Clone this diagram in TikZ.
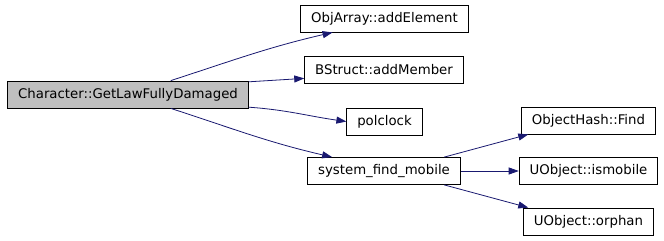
\documentclass[tikz,border=0pt]{standalone}
\usepackage{fontspec}
\setmainfont{DejaVu Sans}
\usepackage{tikz}
\usetikzlibrary{positioning,arrows.meta,calc}
\definecolor{edgeblue}{HTML}{191970}
\tikzset{
  fnbox/.style={draw=black,line width=0.8bp,minimum height=27bp,
    inner xsep=10.5bp,inner ysep=2bp,font=\fontsize{13.3bp}{16bp}\selectfont},
  rootbox/.style={fnbox,fill=black!25},
  call/.style={-{Triangle[length=10bp,width=7bp]},draw=edgeblue,
    line width=0.8bp},
}
\begin{document}
\begin{tikzpicture}[x=1bp,y=1bp]
  \useasboundingbox (0,0) rectangle (664,240);
  \node[rootbox] (root) at (128,145.5) {Character::GetLawFullyDamaged};
  \node[fnbox] (addelem) at (384.5,221.5) {ObjArray::addElement};
  \node[fnbox] (addmem) at (384,170) {BStruct::addMember};
  \node[fnbox] (polclock) at (384.5,118.5) {polclock};
  \node[fnbox] (sysfind) at (384,69) {system\_find\_mobile};
  \node[fnbox] (hashfind) at (588.5,119.5) {ObjectHash::Find};
  \node[fnbox] (ismobile) at (588.5,69) {UObject::ismobile};
  \node[fnbox] (orphan) at (588.5,18.5) {UObject::orphan};
  \draw[call] (root.18) to[out=18,in=193] (addelem.195);
  \draw[call] (root.6) -- (addmem.186);
  \draw[call] (root.-6) to[out=-4,in=172] (polclock.west);
  \draw[call] (root.-18) to[out=-18,in=167] (sysfind.165);
  \draw[call] (sysfind.13) -- (hashfind.193);
  \draw[call] (sysfind.east) -- (ismobile.west);
  \draw[call] (sysfind.-13) -- (orphan.167);
\end{tikzpicture}
\end{document}
